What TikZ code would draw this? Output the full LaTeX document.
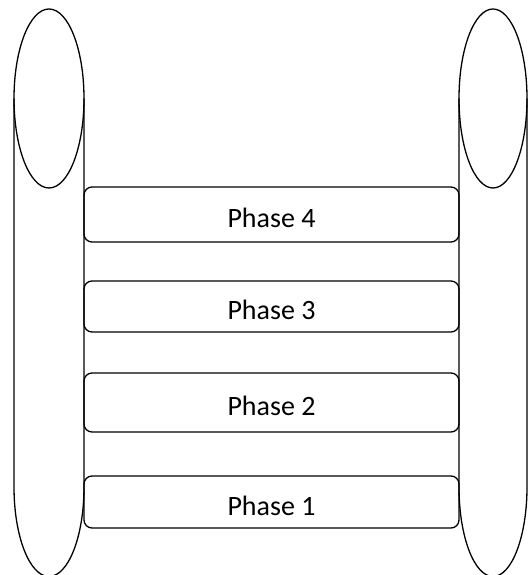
\documentclass[tikz,border=0pt]{standalone}
\usepackage{fontspec}
\setmainfont{Carlito}
\begin{document}
\begin{tikzpicture}[x=1pt, y=1pt, line width=1.3pt,
    phase/.style={draw, rounded corners=8pt, minimum width=375pt, inner sep=0pt,
                  text height=27pt, text depth=0pt,
                  font=\fontsize{28}{33}\selectfont}]
        \useasboundingbox (0,0) rectangle (528,575);
        % left roll
        \draw (14,476.5) -- (14,88) arc[start angle=180, end angle=360, x radius=35, y radius=89.5] -- (84,476.5);
        \draw (49,476.5) ellipse[x radius=35, y radius=89.5];
        % right roll
        \draw (459,476.5) -- (459,88) arc[start angle=180, end angle=360, x radius=34, y radius=89.5] -- (527,476.5);
        \draw (493,476.5) ellipse[x radius=34, y radius=89.5];

        % phases
        \foreach \n/\y/\h in {1/73/52, 2/172.5/59, 3/268.5/51, 4/360.5/55} {
          \node[phase, minimum height=\h pt] (phase\n) at (271.5,\y) {Phase \n};
        }
\end{tikzpicture}
\end{document}
